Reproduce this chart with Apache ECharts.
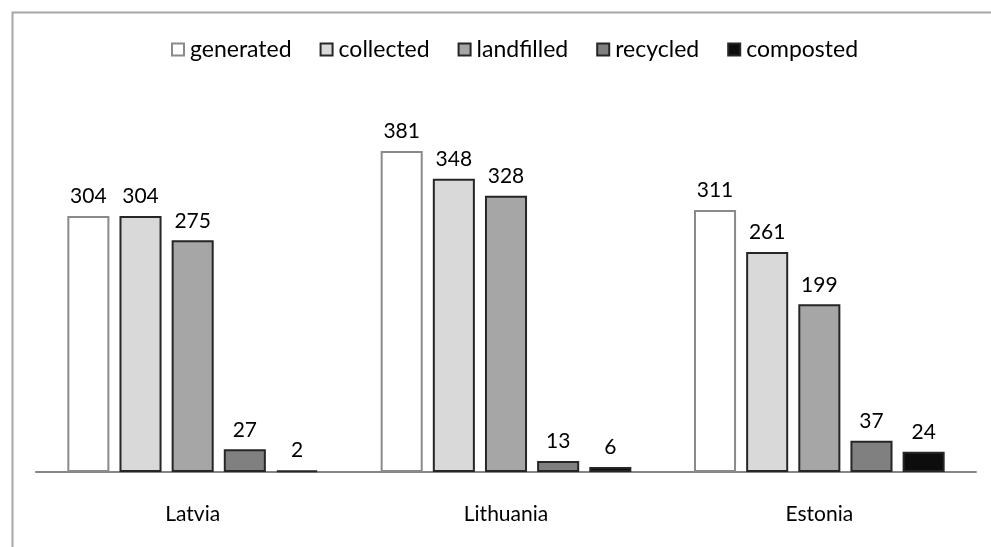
<!DOCTYPE html>
<html><head><meta charset="utf-8">
<script src="https://cdn.jsdelivr.net/npm/echarts@6/dist/echarts.min.js"></script>
<style>html,body{margin:0;padding:0;background:#fff}#c{width:991px;height:547px}</style>
</head><body><div id="c"></div>
<script>
const categories = ['Latvia', 'Lithuania', 'Estonia'];
const generated = [304, 381, 311];
const collected = [304, 348, 261];
const landfilled = [275, 328, 199];
const recycled = [27, 13, 37];
const composted = [2, 6, 24];
const seriesNames = ['generated', 'collected', 'landfilled', 'recycled', 'composted'];

const seriesData = [generated, collected, landfilled, recycled, composted];
const fills = ['#ffffff', '#d9d9d9', '#a6a6a6', '#808080', '#0d0d0d'];
const borders = ['#8a8a8a', '#262626', '#262626', '#262626', '#262626'];
const FONT = 'Lato';

const chart = echarts.init(document.getElementById('c'), null, {renderer: 'canvas'});
chart.setOption({
  animation: false,
  backgroundColor: '#fff',
  textStyle: {fontFamily: FONT},
  graphic: [{
    type: 'rect', left: 10, top: 10, shape: {width: 1100, height: 700},
    style: {fill: 'none', stroke: '#a6a6a6', lineWidth: 2}, silent: true
  }],
  legend: {
    top: 33, left: 166, itemWidth: 12, itemHeight: 12, itemGap: 28,
    icon: 'rect',
    textStyle: {fontFamily: FONT, fontSize: 23, color: '#000', padding: [0, 0, 0, 1]},
    data: seriesNames
  },
  grid: {left: 36, right: 15, top: 135, bottom: 75, containLabel: false},
  xAxis: {
    type: 'category', data: categories,
    axisLine: {lineStyle: {color: '#868686', width: 2}},
    axisTick: {show: false},
    axisLabel: {fontFamily: FONT, fontSize: 21, color: '#000', margin: 32}
  },
  yAxis: {type: 'value', min: 0, max: 400, show: false, splitLine: {show: false}},
  series: seriesData.map((d, i) => ({
    name: seriesNames[i], type: 'bar', data: d,
    barGap: '24%', barCategoryGap: '20%',
    itemStyle: {color: fills[i], borderColor: borders[i], borderWidth: 2},
    label: {show: true, position: 'top', distance: 9, fontFamily: FONT, fontSize: 21, color: '#000'}
  }))
});
</script></body></html>
